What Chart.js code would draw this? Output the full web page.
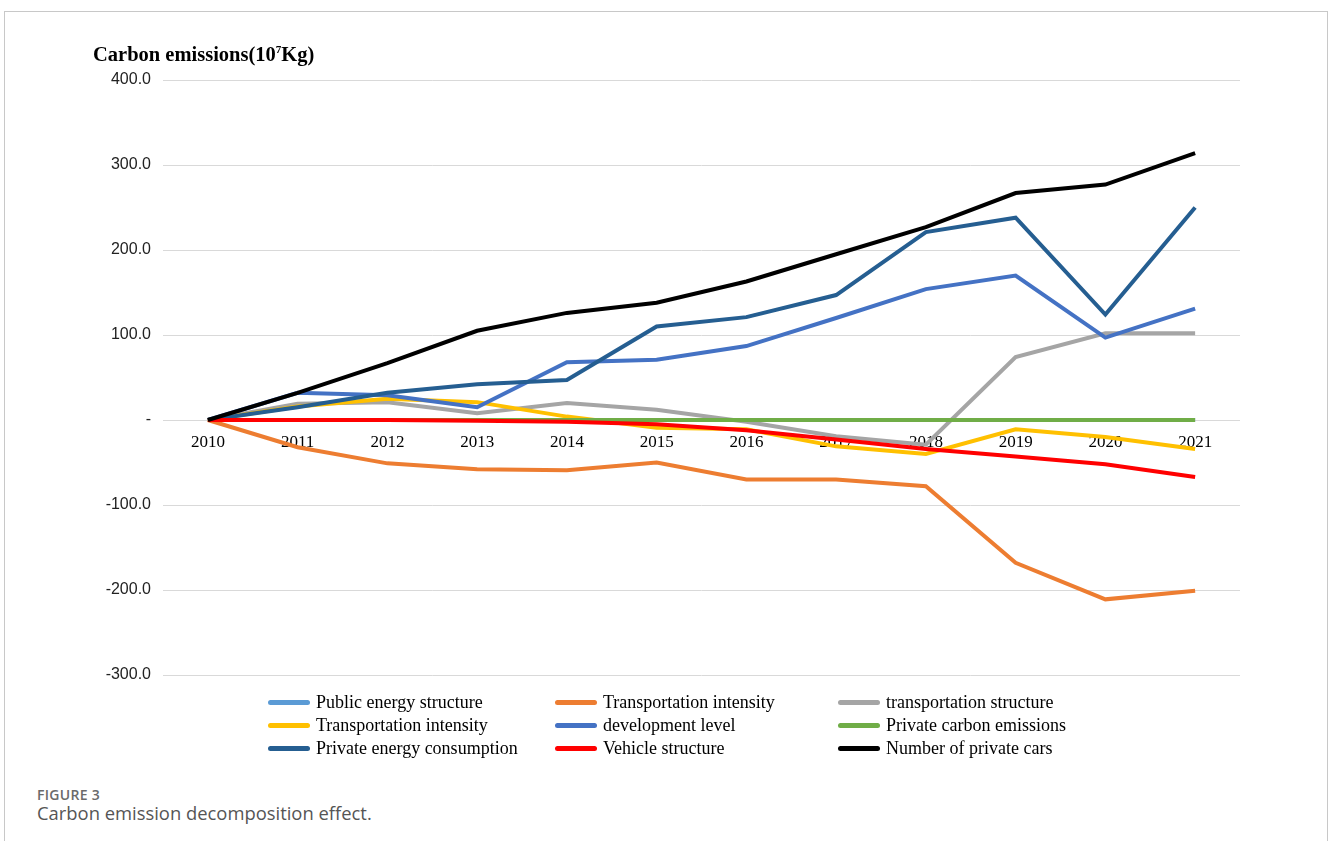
<!DOCTYPE html>
<html>
<head>
<meta charset="utf-8">
<script src="https://cdn.jsdelivr.net/npm/chart.js@4.4.1/dist/chart.umd.min.js"></script>
<style>
    body { margin: 0; background: #fff; }
    #page { position: relative; width: 1328px; height: 841px; overflow: hidden; }
    #frame { position: absolute; left: 4px; top: 11px; width: 1322px; height: 860px; border: 1px solid #c8c8c8; }
    #chartBox { position: absolute; left: 0; top: 0; width: 1328px; height: 700px; }
    #yTitle { position: absolute; left: 93px; top: 43px; font: bold 20.5px "Liberation Serif", "Times New Roman", serif; color: #000; white-space: nowrap; }
    #yTitle sup { font-size: 11px; vertical-align: 8px; }
    #legend { position: absolute; left: 268px; top: 691px; display: grid; grid-template-columns: 287px 283px auto; grid-auto-rows: 23px; font: 18px "Liberation Serif", "Times New Roman", serif; color: #000; }
    #legend div { display: flex; align-items: center; white-space: nowrap; }
    #legend span.swatch { display: inline-block; width: 42px; height: 5px; border-radius: 3px; margin-right: 6px; }
    #figLabel { position: absolute; left: 37px; top: 785px; font: 600 14px "Open Sans", sans-serif; color: #6a6a6a; letter-spacing: 0.3px; }
    #caption { position: absolute; left: 37px; top: 800px; font: 18.4px "Open Sans", sans-serif; color: #555; }
</style>
</head>
<body>
<div id="page">
    <div id="frame"></div>
    <div id="chartBox"><canvas id="emissionsChart"></canvas></div>
    <div id="yTitle">Carbon emissions(10<sup>7</sup>Kg)</div>
    <div id="legend"></div>
    <div id="figLabel">FIGURE 3</div>
    <div id="caption">Carbon emission decomposition effect.</div>
</div>
<script>
var years = ["2010", "2011", "2012", "2013", "2014", "2015", "2016", "2017", "2018", "2019", "2020", "2021"];

var publicEnergyStructure = [0, 0, 0, 0, 0, 0, 0, 0, 0, 0, 0, 0];
var transportationIntensityA = [0, -32, -51, -58, -59, -50, -70, -70, -78, -168, -211, -201];
var transportationStructure = [0, 19, 21, 8, 20, 12, -2, -19, -29, 74, 102, 102];
var transportationIntensityB = [0, 16, 25, 21, 4, -9, -11, -31, -40, -11, -20, -34];
var developmentLevel = [0, 32, 29, 15, 68, 71, 87, 120, 154, 170, 97, 131];
var privateCarbonEmissions = [0, 0, 0, 0, 0, 0, 0, 0, 0, 0, 0, 0];
var privateEnergyConsumption = [0, 15, 32, 42, 47, 110, 121, 147, 221, 238, 124, 250];
var vehicleStructure = [0, 0, 0, -1, -2, -5, -12, -23, -34, -43, -52, -67];
var numberOfPrivateCars = [0, 32, 67, 105, 126, 138, 163, 195, 227, 267, 277, 314];

var seriesNames = ["Public energy structure", "Transportation intensity", "transportation structure",
    "Transportation intensity", "development level", "Private carbon emissions",
    "Private energy consumption", "Vehicle structure", "Number of private cars"];
var seriesValues = [publicEnergyStructure, transportationIntensityA, transportationStructure,
    transportationIntensityB, developmentLevel, privateCarbonEmissions,
    privateEnergyConsumption, vehicleStructure, numberOfPrivateCars];
var seriesColors = ["#5B9BD5", "#ED7D31", "#A5A5A5", "#FFC000", "#4472C4", "#70AD47", "#255E91", "#FF0000", "#000000"];

var datasets = [];
for (var i = 0; i < seriesNames.length; ++i) {
    datasets.push({
        label: seriesNames[i],
        data: seriesValues[i],
        borderColor: seriesColors[i],
        backgroundColor: seriesColors[i],
        borderWidth: 4,
        pointRadius: 0,
        tension: 0,
        fill: false,
        // excel draws later series on top
        order: seriesNames.length - i
    });
}

// legend in three columns like the original
var legendBox = document.getElementById("legend");
for (var i = 0; i < seriesNames.length; ++i) {
    legendBox.innerHTML += "<div><span class=\"swatch\" style=\"background:" + seriesColors[i] + ";\"></span>" + seriesNames[i] + "</div>";
}

var ctx = document.getElementById("emissionsChart").getContext("2d");
var myChart = new Chart(ctx, {
    type: "line",
    data: {
        labels: years,
        datasets: datasets
    },
    options: {
        responsive: true,
        maintainAspectRatio: false,
        animation: false,
        layout: {
            padding: { left: 63, right: 88, top: 80, bottom: 25 }
        },
        plugins: {
            legend: { display: false },
            tooltip: { enabled: false }
        },
        scales: {
            x: {
                position: { y: 0 },
                offset: true,
                grid: { display: false, drawTicks: false },
                border: { display: false },
                ticks: {
                    color: "#000",
                    padding: 12,
                    maxRotation: 0,
                    font: { family: "'Liberation Serif', 'Times New Roman', serif", size: 17 }
                }
            },
            y: {
                min: -300,
                max: 400,
                afterFit: function(scale) { scale.width = 100; },
                grid: { color: "#D9D9D9", lineWidth: 1, drawTicks: false },
                border: { display: false },
                ticks: {
                    stepSize: 100,
                    color: "#222",
                    padding: 12,
                    font: { family: "'Liberation Sans', Arial, sans-serif", size: 16 },
                    callback: function(value) {
                        return value === 0 ? "-" : value.toFixed(1);
                    }
                }
            }
        }
    }
});
</script>
</body>
</html>
